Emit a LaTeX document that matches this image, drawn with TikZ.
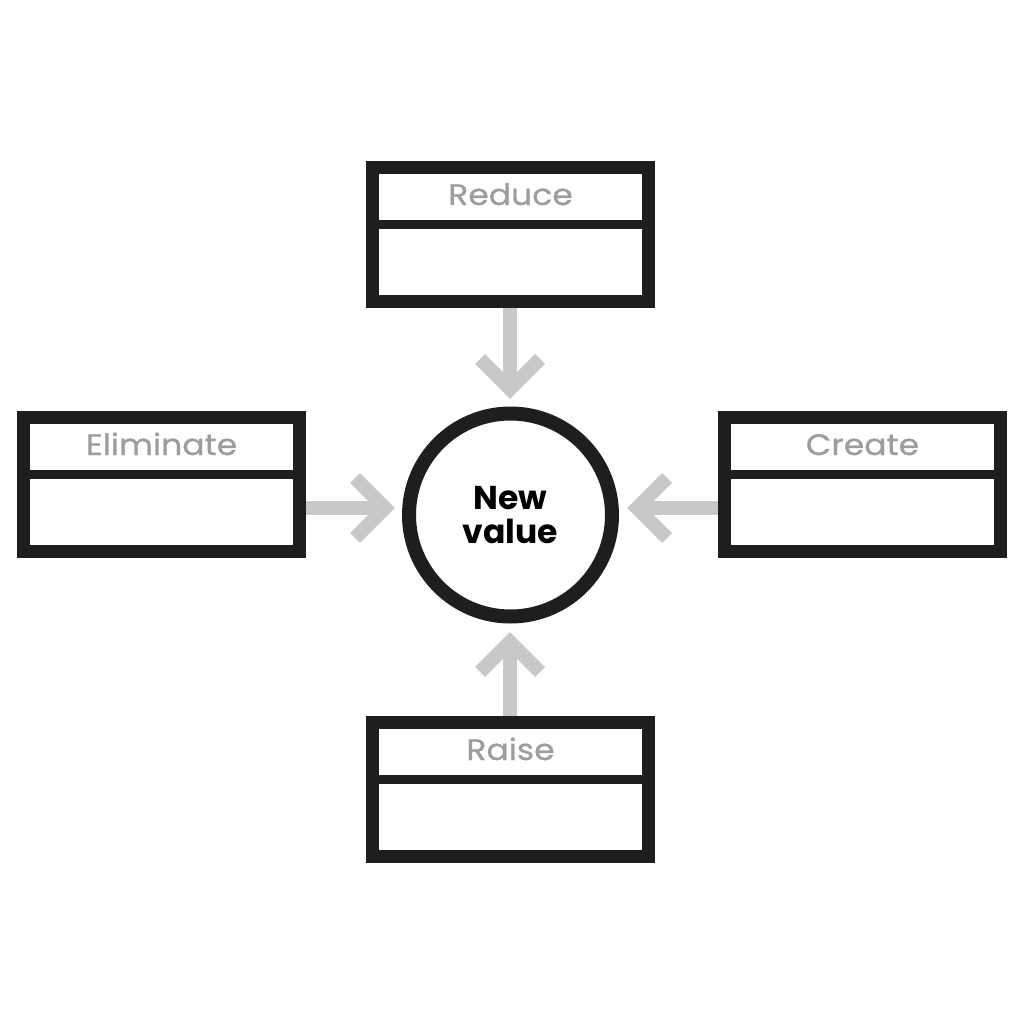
\documentclass[tikz,border=0pt]{standalone}
\usepackage{fontspec}
\setmainfont{Poppins}
\newfontfamily\labelfont[FakeStretch=1.12, FakeBold=0.8]{Poppins}
\usetikzlibrary{calc}
\definecolor{ink}{HTML}{1E1E1C}
\definecolor{arrowgray}{HTML}{C8C8C8}
\definecolor{labelgray}{HTML}{9D9D9D}
\tikzset{
  x=1pt, y=-1pt,
  framebox/.style={draw=ink, line width=13pt, minimum width=276pt, minimum height=134pt, inner sep=0pt},
  divider/.style={draw=ink, line width=9pt},
  boxlabel/.style={anchor=base, text=labelgray, font=\labelfont\fontsize{29.5}{31}\selectfont, inner sep=0pt},
  hub/.style={circle, draw=ink, line width=14pt, minimum size=203pt, inner sep=0pt, align=center,
     font=\fontsize{33}{34}\selectfont\bfseries},
  shaft/.style={draw=arrowgray, line width=14pt, line cap=butt},
  chevron/.style={draw=arrowgray, line width=14pt, line cap=butt, line join=miter},
}
\begin{document}
\begin{tikzpicture}
\useasboundingbox[fill=white] (0,0) rectangle (1024,1024);

\coordinate (tT) at (510,389);
\coordinate (tB) at (510,642);
\coordinate (tL) at (385,508);
\coordinate (tR) at (637,508);

\node[framebox] (T) at (510.5,234.5) {};
\node[framebox] (B) at (510.5,789.5) {};
\node[framebox] (L) at (161.5,484.5) {};
\node[framebox] (R) at (862.5,484.5) {};

\draw[shaft] (tT |- T.south) -- (tT);
\draw[shaft] (tB |- B.north) -- (tB);
\draw[shaft] (tL -| L.east) -- (tL);
\draw[shaft] (tR -| R.west) -- (tR);

\draw[chevron] ($(tT)+(-30,-30)$) -- (tT) -- ($(tT)+(30,-30)$);
\draw[chevron] ($(tB)+(-30,30)$) -- (tB) -- ($(tB)+(30,30)$);
\draw[chevron] ($(tL)+(-30,-30)$) -- (tL) -- ($(tL)+(-30,30)$);
\draw[chevron] ($(tR)+(30,-30)$) -- (tR) -- ($(tR)+(30,30)$);

% redraw box frames over the shaft ends
\foreach \b in {T,B,L,R}{
  \draw[ink, line width=13pt] ([xshift=6.5pt,yshift=-6.5pt]\b.north west) rectangle ([xshift=-6.5pt,yshift=6.5pt]\b.south east);
  \draw[divider] ([yshift=-63.5pt]\b.north west) -- ([yshift=-63.5pt]\b.north east);
}

\node[boxlabel] (lT) at ([yshift=-44pt]T.north) {Reduce};
\node[boxlabel] (lB) at ([yshift=-44pt]B.north) {Raise};
\node[boxlabel] (lL) at ([yshift=-44pt]L.north) {Eliminate};
\node[boxlabel] (lR) at ([yshift=-44pt]R.north) {Create};

\node[hub] (C) at (510.5,515) {New\\value};
\end{tikzpicture}
\end{document}
